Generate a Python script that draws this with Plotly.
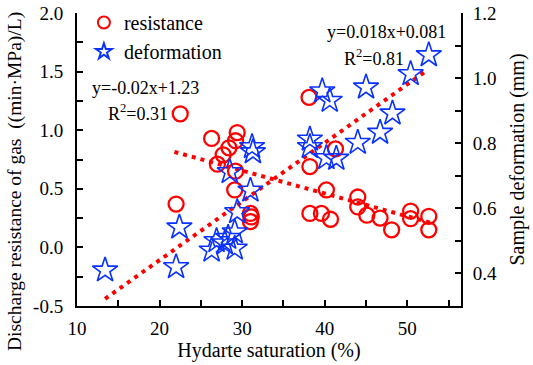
import numpy as np
import plotly.graph_objects as go

# Hydrate saturation (%) and discharge resistance of gas ((min·MPa)/L)
res_x = [22.5, 26.3, 29.4, 29.2, 28.4, 27.7, 27.0, 29.2, 29.1, 22.0, 31.0, 31.1, 31.0,
         38.1, 41.3, 38.2, 40.2, 44.0, 44.0, 38.2, 39.6, 40.7, 45.1, 46.7, 48.1,
         50.4, 50.4, 52.6, 52.6]
res_y = [1.14, 0.93, 0.98, 0.91, 0.85, 0.79, 0.71, 0.65, 0.49, 0.37, 0.29, 0.26, 0.22,
         1.28, 0.84, 0.69, 0.49, 0.43, 0.345, 0.29, 0.29, 0.24, 0.275, 0.25, 0.15,
         0.31, 0.245, 0.265, 0.15]

# Hydrate saturation (%) and sample deformation (mm)
def_x = [13.4, 22.0, 22.4, 26.3, 26.9, 27.9, 28.3, 29.1, 29.1, 29.4, 28.5, 31.0, 31.2, 31.3,
         38.2, 38.2, 39.7, 40.6, 40.2, 41.4, 44.0, 45.0, 46.7, 48.2, 50.4, 52.6]
def_y = [0.41, 0.42, 0.542, 0.471, 0.50, 0.493, 0.51, 0.527, 0.477, 0.589, 0.712, 0.655,
         0.789, 0.773, 0.812, 0.789, 0.96, 0.931, 0.755, 0.753, 0.802, 0.972, 0.833, 0.892,
         1.013, 1.071]

# Fitted trend lines (from chart labels)
res_fit = (-0.0195, 1.24)
def_fit = (0.018, 0.081)
res_fit_x = [21.8, 53.0]
def_fit_x = [13.4, 52.3]

FONT = "Liberation Serif, Times New Roman, serif"

fig = go.Figure()

fx = np.array(res_fit_x)
fig.add_trace(go.Scatter(x=fx, y=res_fit[0] * fx + res_fit[1], mode="lines",
                         line=dict(color="#ff0000", width=4, dash="4px,5px"),
                         showlegend=False, hoverinfo="skip"))
fx2 = np.array(def_fit_x)
fig.add_trace(go.Scatter(x=fx2, y=def_fit[0] * fx2 + def_fit[1], mode="lines",
                         line=dict(color="#ff0000", width=4, dash="4px,5px"),
                         showlegend=False, hoverinfo="skip", yaxis="y2"))

fig.add_trace(go.Scatter(x=res_x, y=res_y, mode="markers", name="resistance",
                         marker=dict(symbol="circle-open", size=15, color="#ff0000",
                                     line=dict(width=2.3, color="#ff0000"))))
fig.add_trace(go.Scatter(x=def_x, y=def_y, mode="markers", name="deformation",
                         yaxis="y2",
                         marker=dict(symbol="star-open", size=19, color="#0a32ff",
                                     line=dict(width=1.6, color="#0a32ff"))))

tickfont = dict(family=FONT, size=19, color="black")
common = dict(showgrid=False, zeroline=False, ticks="inside", ticklen=6, tickwidth=1.5,
              tickcolor="black", showline=True, linecolor="black", linewidth=2,
              tickfont=tickfont, automargin=False)

fig.update_layout(
    width=533, height=365,
    margin=dict(l=77, r=72, t=13, b=59, autoexpand=False),
    paper_bgcolor="white", plot_bgcolor="white",
    font=dict(family=FONT, size=15, color="black"),
    xaxis=dict(range=[10, 56.5], tickvals=[10, 20, 30, 40, 50],
               minor=dict(tickvals=[15, 25, 35, 45, 55], ticks="inside", ticklen=6,
                          tickwidth=1.5, tickcolor="black"),
               ticklabelstandoff=4,
               title=dict(text="Hydarte saturation (%)", font=dict(family=FONT, size=20),
                          standoff=4),
               **common),
    yaxis=dict(range=[-0.5, 2.0], tickvals=[-0.5, 0.0, 0.5, 1.0, 1.5, 2.0],
               ticktext=["-0.5", "0.0", "0.5", "1.0", "1.5", "2.0"],
               minor=dict(tickvals=[-0.25, 0.25, 0.75, 1.25, 1.75], ticks="inside",
                          ticklen=6, tickwidth=1.5, tickcolor="black"),
               ticklabelstandoff=8,
               **common),
    yaxis2=dict(range=[0.3, 1.2], overlaying="y", side="right",
                tickvals=[0.4, 0.6, 0.8, 1.0, 1.2],
                ticktext=["0.4", "0.6", "0.8", "1.0", "1.2"],
                minor=dict(tickvals=[0.5, 0.7, 0.9, 1.1], ticks="inside", ticklen=6,
                           tickwidth=1.5, tickcolor="black"),
                ticklabelstandoff=6,
                title=dict(text="Sample deformation (mm)", font=dict(family=FONT, size=20),
                           standoff=14),
                **common),
    legend=dict(x=0.018, y=1.034, xanchor="left", yanchor="top", bgcolor="rgba(0,0,0,0)",
                font=dict(family=FONT, size=20), itemsizing="constant",
                tracegroupgap=0),
    showlegend=True,
)

ann_font = dict(family=FONT, size=18, color="black")
anns = [(145, 88, "y=-0.02x+1.23", 18, 0), (138, 113, "R<sup>2</sup>=0.31", 18, 0),
        (386, 32, "y=0.018x+0.081", 18, 0), (374, 57, "R<sup>2</sup>=0.81", 18, 0),
        (15, 182, "Discharge resistance of gas  ((min·MPa)/L)", 19.5, -90)]

# convert pixel annotation positions to paper coords
W, H = 533, 365
L, R, T, B = 77, 72, 13, 59
pw, ph = W - L - R, H - T - B
for px, py, txt, fs, ang in anns:
    fig.add_annotation(x=(px - L) / pw, y=1 - (py - T) / ph, xref="paper", yref="paper",
                       xanchor="center", yanchor="middle", textangle=ang,
                       text=txt, showarrow=False,
                       font=dict(family=FONT, size=fs, color="black"))

fig.write_html("out.html", config={"displayModeBar": False},
               post_script="document.body.style.margin='0';"
                           "document.body.style.overflow='hidden';")
